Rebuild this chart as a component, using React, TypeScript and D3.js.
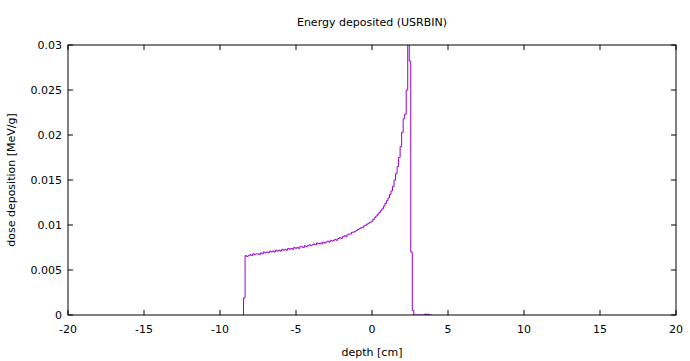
import React from "react";
import * as d3 from "d3";

const binStart = -8.45;
const binWidth = 0.1;
const doseValues: number[] = [
  0.0019, 0.0066, 0.0065, 0.0066, 0.0067, 0.0066, 0.0068, 0.0067, 0.0068, 0.0068,
  0.0067, 0.0069, 0.0068, 0.0070, 0.0069, 0.0070, 0.0069, 0.0071, 0.0070, 0.0071,
  0.0070, 0.0072, 0.0071, 0.0072, 0.0071, 0.0073, 0.0072, 0.0073, 0.0072, 0.0074,
  0.0073, 0.0074, 0.0073, 0.0075, 0.0074, 0.0075, 0.0074, 0.0076, 0.0076, 0.0075,
  0.0077, 0.0076, 0.0077, 0.0078, 0.0077, 0.0078, 0.0079, 0.0078, 0.0080, 0.0079,
  0.0080, 0.0079, 0.0081, 0.0080, 0.0081, 0.0082, 0.0081, 0.0083, 0.0082, 0.0083,
  0.0084, 0.0083, 0.0085, 0.0086, 0.0085, 0.0087, 0.0088, 0.0087, 0.0089, 0.0090,
  0.0090, 0.0092, 0.0092, 0.0093, 0.0094, 0.0095, 0.0096, 0.0097, 0.0097, 0.0099,
  0.0100, 0.0101, 0.0102, 0.0103, 0.0104, 0.0106, 0.0108, 0.0110, 0.0112, 0.0114,
  0.0116, 0.0118, 0.0121, 0.0124, 0.0127, 0.0130, 0.0134, 0.0138, 0.0143, 0.0150,
  0.0157, 0.0165, 0.0175, 0.0187, 0.0203, 0.0218, 0.0223, 0.0250, 0.0320, 0.0282,
  0.0070, 0.0005, 0.0000, 0.0000, 0.0000, 0.0000, 0.0000, 0.0000, 0.0000, 0.0001,
  0.0000, 0.0001, 0.0000, 0.0000,
];

const xTicks = [-20, -15, -10, -5, 0, 5, 10, 15, 20];
const yTicks = [0, 0.005, 0.01, 0.015, 0.02, 0.025, 0.03];
const yTickLabels = ["0", "0.005", "0.01", "0.015", "0.02", "0.025", "0.03"];

const W = 690;
const H = 361;
const L = 68;
const R = 676;
const T = 45;
const B = 315;
const FONT = "DejaVu Sans, sans-serif";

export default function App() {
  const x = d3.scaleLinear().domain([-20, 20]).range([L, R]);
  const y = d3.scaleLinear().domain([0, 0.03]).range([B, T]);

  const pts: [number, number][] = [[binStart, 0]];
  doseValues.forEach((v, i) => {
    const x0 = binStart + i * binWidth;
    pts.push([x0, v]);
    pts.push([x0 + binWidth, v]);
  });
  const line = d3
    .line<[number, number]>()
    .x((d) => x(d[0]))
    .y((d) => y(d[1]));

  const tk = 5;
  return (
    <svg width={W} height={H} style={{ position: "absolute", left: 0, top: 0, background: "#fff" }}>
      <defs>
        <clipPath id="plotclip">
          <rect x={L} y={T} width={R - L} height={B - T} />
        </clipPath>
      </defs>
      <rect x={0} y={0} width={W} height={H} fill="#fff" />
      <text x={(L + R) / 2} y={26} textAnchor="middle" fontFamily={FONT} fontSize={11} fill="#000">
        Energy deposited (USRBIN)
      </text>
      {xTicks.map((t) => (
        <g key={"x" + t}>
          <line x1={x(t)} x2={x(t)} y1={B} y2={B - tk} stroke="#000" strokeWidth={1} />
          <line x1={x(t)} x2={x(t)} y1={T} y2={T + tk} stroke="#000" strokeWidth={1} />
          <text x={x(t)} y={333} textAnchor="middle" fontFamily={FONT} fontSize={11} fill="#000">
            {String(t)}
          </text>
        </g>
      ))}
      {yTicks.map((t, i) => (
        <g key={"y" + i}>
          <line x1={L} x2={L + tk} y1={y(t)} y2={y(t)} stroke="#000" strokeWidth={1} />
          <line x1={R} x2={R - tk} y1={y(t)} y2={y(t)} stroke="#000" strokeWidth={1} />
          <text x={62} y={y(t) + 4} textAnchor="end" fontFamily={FONT} fontSize={11} fill="#000">
            {yTickLabels[i]}
          </text>
        </g>
      ))}
      <path d={line(pts) || ""} fill="none" stroke="#9400d3" strokeWidth={1} clipPath="url(#plotclip)" />
      <rect x={L} y={T} width={R - L} height={B - T} fill="none" stroke="#000" strokeWidth={1} />
      <text x={(L + R) / 2} y={356} textAnchor="middle" fontFamily={FONT} fontSize={11} fill="#000">
        depth [cm]
      </text>
      <text
        transform={`translate(15,${(T + B) / 2}) rotate(-90)`}
        textAnchor="middle"
        fontFamily={FONT}
        fontSize={11}
        fill="#000"
      >
        dose deposition [MeV/g]
      </text>
    </svg>
  );
}
